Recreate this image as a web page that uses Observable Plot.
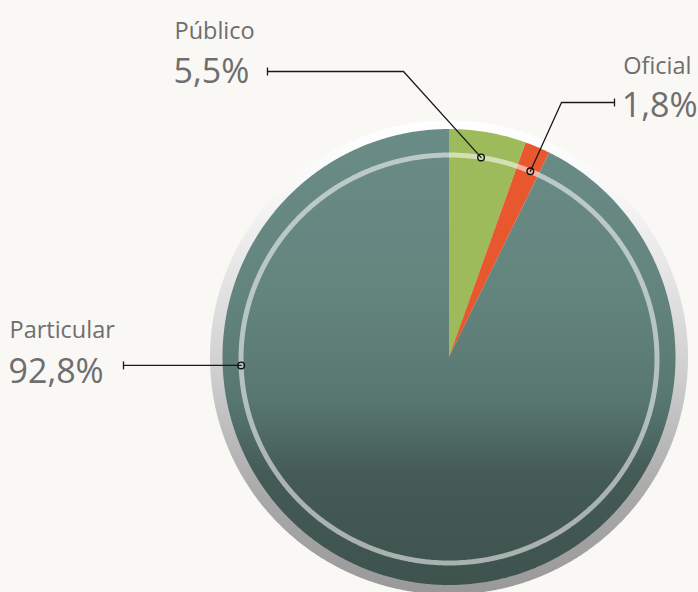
<!DOCTYPE html>
<html>
<head>
<meta charset="utf-8">
<script src="https://cdn.jsdelivr.net/npm/d3@7"></script>
<script src="https://cdn.jsdelivr.net/npm/@observablehq/plot@0.6"></script>
<style>
  html, body { margin: 0; padding: 0; background: #f9f8f4; }
  #chart svg { display: block; }
</style>
</head>
<body>
<div id="chart"></div>
<script>
// ---- Data ----
const categories = ["Público", "Oficial", "Particular"];
const values = [5.5, 1.8, 92.8];
const valueLabels = ["5,5%", "1,8%", "92,8%"];
const colors = ["#9dbb5a", "#e8572e", "url(#pieGrad)"];

// ---- Layout (pixels -> pie units) ----
const W = 698, H = 592;
const CX = 448.5, CY = 356.5, PXU = 226.5, PYU = 228;
const ux = px => (px - CX) / PXU;
const uy = py => (CY - py) / PYU;

// pie angles through d3.pie (clockwise from 12 o'clock)
const arcs = d3.pie().sort(null).value(d => d.value)(
  categories.map((c, i) => ({ category: c, value: values[i], label: valueLabels[i], color: colors[i] }))
);
const STEP = Math.PI / 360;
function sector(a0, a1, r, key) {
  const pts = [{ x: 0, y: 0, key }];
  const n = Math.max(2, Math.ceil((a1 - a0) / STEP));
  for (let k = 0; k <= n; k++) {
    const a = a0 + (a1 - a0) * k / n;
    pts.push({ x: r * Math.sin(a), y: r * Math.cos(a), key });
  }
  pts.push({ x: 0, y: 0, key });
  return pts;
}
function ellipse(rx, ry, cy, key) {
  const pts = [];
  for (let k = 0; k <= 720; k++) {
    const a = 2 * Math.PI * k / 720;
    pts.push({ x: rx * Math.sin(a), y: cy + ry * Math.cos(a), key });
  }
  return pts;
}
const slicePts = arcs.flatMap(a => sector(a.startAngle, a.endAngle, 1, a.data.category));
const rimPts = ellipse(239 / PXU, 237 / PYU, uy(357), "rim");
// highlight ring
const RRX = 208 / PXU, RRY = 204 / PYU, RCY = uy(358.5);
const ringPts = ellipse(RRX, RRY, RCY, "ring");
const ringAt = a => ({ x: RRX * Math.sin(a), y: RCY + RRY * Math.cos(a) });

// anchors of leader lines on the ring
const anchorAngle = {
  "Público": (arcs[0].startAngle + arcs[0].endAngle) / 2 - 0.018,
  "Oficial": (arcs[1].startAngle + arcs[1].endAngle) / 2,
  "Particular": 268.2 * Math.PI / 180
};
const anchors = categories.map(c => ({ category: c, ...ringAt(anchorAngle[c]) }));
const A = Object.fromEntries(anchors.map(d => [d.category, d]));

const leaders = [
  { category: "Público", x: ux(267), y: uy(71) },
  { category: "Público", x: ux(403), y: uy(71) },
  { category: "Público", x: A["Público"].x, y: A["Público"].y },
  { category: "Oficial", x: ux(614), y: uy(102) },
  { category: "Oficial", x: ux(561), y: uy(102) },
  { category: "Oficial", x: A["Oficial"].x, y: A["Oficial"].y },
  { category: "Particular", x: ux(123), y: A["Particular"].y },
  { category: "Particular", x: A["Particular"].x, y: A["Particular"].y }
];
const tickEnds = [
  { x: ux(267), y: uy(71) },
  { x: ux(614), y: uy(102) },
  { x: ux(123), y: A["Particular"].y }
];
const TK = 4 / PYU;

const namesLeft = [
  { t: categories[0], x: ux(174), y: uy(38) },
  { t: categories[2], x: ux(9), y: uy(337) }
];
const namesRight = [
  { t: categories[1], x: ux(691), y: uy(73) }
];
const valsLeft = [
  { t: valueLabels[0], x: ux(173), y: uy(82) },
  { t: valueLabels[2], x: ux(8), y: uy(382) }
];
const valsRight = [
  { t: valueLabels[1], x: ux(697), y: uy(116) }
];

const defs = () => {
  const d = d3.create("svg:defs");
  const g1 = d.append("linearGradient").attr("id", "pieGrad").attr("x1", 0).attr("y1", 0).attr("x2", 0).attr("y2", 1);
  [[0, "#6a8c86"], [0.35, "#64857e"], [0.6, "#577670"], [0.76, "#445a55"], [1, "#3e534d"]]
    .forEach(([o, c]) => g1.append("stop").attr("offset", o).attr("stop-color", c));
  const g2 = d.append("linearGradient").attr("id", "rimGrad").attr("x1", 0).attr("y1", 0).attr("x2", 0).attr("y2", 1);
  [[0, "#ffffff"], [0.15, "#f7f7f7"], [0.5, "#d3d3d3"], [0.8, "#a8a8a8"], [1, "#999999"]]
    .forEach(([o, c]) => g2.append("stop").attr("offset", o).attr("stop-color", c));
  return d.node();
};

const textStyle = { x: "x", y: "y", text: "t", lineAnchor: "bottom", fill: "#6e6e6e" };

const chart = Plot.plot({
  width: W,
  height: H,
  margin: 0,
  style: { background: "#f9f8f4", fontFamily: "'Open Sans', 'Noto Sans', sans-serif" },
  x: { domain: [ux(0), ux(W)], axis: null },
  y: { domain: [uy(H), uy(0)], axis: null },
  marks: [
    defs,
    Plot.line(rimPts, { x: "x", y: "y", fill: "url(#rimGrad)", stroke: "none" }),
    ...arcs.map(a => Plot.line(slicePts.filter(p => p.key === a.data.category),
      { x: "x", y: "y", fill: a.data.color, stroke: "none" })),
    Plot.line(ringPts, { x: "x", y: "y", stroke: "#ffffff", strokeOpacity: 0.55, strokeWidth: 5, fill: "none" }),
    Plot.line(leaders, { x: "x", y: "y", z: "category", stroke: "#1a1a1a", strokeWidth: 1.3, curve: "linear" }),
    Plot.link(tickEnds, { x1: "x", x2: "x", y1: d => d.y - TK, y2: d => d.y + TK, stroke: "#1a1a1a", strokeWidth: 1.3 }),
    Plot.dot(anchors, { x: "x", y: "y", r: 3.3, stroke: "#111", strokeWidth: 1.4, fill: "none" }),
    Plot.text(namesLeft, { ...textStyle, textAnchor: "start", fontSize: 23.5 }),
    Plot.text(namesRight, { ...textStyle, textAnchor: "end", fontSize: 23.5 }),
    Plot.text(valsLeft, { ...textStyle, textAnchor: "start", fontSize: 34 }),
    Plot.text(valsRight, { ...textStyle, textAnchor: "end", fontSize: 34 })
  ]
});
document.getElementById("chart").append(chart);
</script>
</body>
</html>
